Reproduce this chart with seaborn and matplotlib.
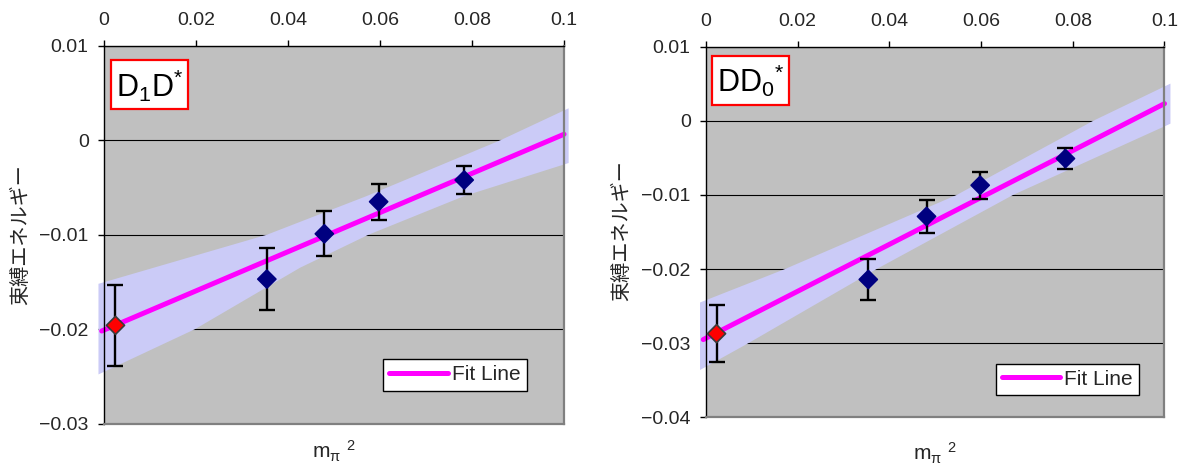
import numpy as np
import matplotlib
matplotlib.use("Agg")
import matplotlib.pyplot as plt
from matplotlib.patches import Rectangle
import seaborn as sns

# ---- data ----
# D1D* panel
mpi2_d1 = [0.0025, 0.0354, 0.0479, 0.0597, 0.0783]
eb_d1 = [-0.0196, -0.0147, -0.0099, -0.0065, -0.0042]
err_d1 = [0.0043, 0.0033, 0.0024, 0.0019, 0.0015]
fit_x_d1 = [-0.0005, 0.1]
fit_y_d1 = [-0.0202, 0.00065]
band_top_x_d1 = [-0.0012, 0.0354, 0.0571, 0.0861, 0.101]
band_top_y_d1 = [-0.0152, -0.0100, -0.0059, 0.0, 0.0034]
band_bot_x_d1 = [-0.0012, 0.0198, 0.0426, 0.0575, 0.0783, 0.101]
band_bot_y_d1 = [-0.0248, -0.0200, -0.0135, -0.0100, -0.0059, -0.0024]

# DD0* panel
mpi2_d0 = [0.0023, 0.0354, 0.0481, 0.0598, 0.0784]
eb_d0 = [-0.0287, -0.0214, -0.0129, -0.0087, -0.0051]
err_d0 = [0.0038, 0.0028, 0.0022, 0.0018, 0.0014]
fit_x_d0 = [-0.0006, 0.1]
fit_y_d0 = [-0.0295, 0.0023]
band_top_x_d0 = [-0.0013, 0.0172, 0.0547, 0.0845, 0.1013]
band_top_y_d0 = [-0.0245, -0.0200, -0.0100, 0.0, 0.0050]
band_bot_x_d0 = [-0.0013, 0.0092, 0.0372, 0.0670, 0.1013]
band_bot_y_d0 = [-0.0336, -0.0300, -0.0200, -0.0100, -0.0004]

xticks = [0, 0.02, 0.04, 0.06, 0.08, 0.1]
xticklabels = ["0", "0.02", "0.04", "0.06", "0.08", "0.1"]
yticks_d1 = [0.01, 0, -0.01, -0.02, -0.03]
yticklabels_d1 = ["0.01", "0", "\u22120.01", "\u22120.02", "\u22120.03"]
yticks_d0 = [0.01, 0, -0.01, -0.02, -0.03, -0.04]
yticklabels_d0 = ["0.01", "0", "\u22120.01", "\u22120.02", "\u22120.03", "\u22120.04"]

ylabel = "束縛エネルギー"
xlabel = "m$_{π}$ $^{2}$"

sns.set_theme(style="ticks")
plt.rcParams["font.family"] = ["Liberation Sans", "DejaVu Sans"]
plt.rcParams["mathtext.fontset"] = "custom"
plt.rcParams["mathtext.rm"] = "Liberation Sans"
plt.rcParams["mathtext.it"] = "Liberation Sans"
plt.rcParams["mathtext.default"] = "regular"

fig = plt.figure(figsize=(11.79, 4.66), dpi=100)
ax1 = fig.add_axes([0.0882, 0.0912, 0.3902, 0.8101])
ax2 = fig.add_axes([0.5988, 0.1041, 0.3889, 0.7961])


def draw_panel(ax, mx, ey, err, fx, fy, tx, ty, bx, by, yticks, yticklabels,
               ylim, tag, tag_box, tag_pos, leg_anchor, ylab_pos, xlab_pos):
    ax.set_facecolor("#c0c0c0")
    ax.set_axisbelow(True)

    # confidence band
    poly_x = list(tx) + list(bx)[::-1]
    poly_y = list(ty) + list(by)[::-1]
    ax.fill(poly_x, poly_y, facecolor="#cbcbf7", edgecolor="none",
            zorder=1, clip_on=False)

    sns.lineplot(x=fx, y=fy, ax=ax, color="#ff00ff", linewidth=3.6,
                 label="Fit Line", zorder=2, clip_on=False)

    ax.errorbar(mx, ey, yerr=err, fmt="none", ecolor="black",
                elinewidth=1.7, capsize=5.5, capthick=1.7, zorder=3)
    colors = ["#ff0000"] + ["#000080"] * (len(mx) - 1)
    edges = ["#3a3a3a"] + ["#000080"] * (len(mx) - 1)
    sns.scatterplot(x=mx, y=ey, ax=ax, marker="D", s=85, c=colors,
                    edgecolor=edges, linewidth=1.2, zorder=4, legend=False)

    ax.set_xlim(0, 0.1)
    ax.set_ylim(*ylim)
    ax.xaxis.tick_top()
    ax.set_xticks(xticks)
    ax.set_xticklabels(xticklabels)
    ax.set_yticks(yticks)
    ax.set_yticklabels(yticklabels)
    ax.tick_params(axis="x", direction="out", length=4, width=1,
                   color="black", labelsize=14, pad=8)
    ax.tick_params(axis="y", direction="out", length=4, width=1,
                   color="black", labelsize=14, pad=7)
    ax.yaxis.grid(True, color="black", linewidth=0.8)
    ax.xaxis.grid(False)

    for side in ["left", "top"]:
        ax.spines[side].set_visible(True)
        ax.spines[side].set_color("black")
        ax.spines[side].set_linewidth(1)
    for side in ["right", "bottom"]:
        ax.spines[side].set_visible(True)
        ax.spines[side].set_color("#808080")
        ax.spines[side].set_linewidth(1.6)

    ax.set_ylabel(ylabel, fontsize=14.5, family=["Noto Sans CJK JP", "DejaVu Sans"])
    ax.yaxis.set_label_coords(*ylab_pos)
    ax.set_xlabel(xlabel, fontsize=15)
    ax.xaxis.set_label_position("bottom")
    ax.xaxis.set_label_coords(*xlab_pos)
    ax.xaxis.label.set_va("center")

    # tag box
    x0, y0, x1, y1 = tag_box
    ax.add_patch(Rectangle((x0, y0), x1 - x0, y1 - y0, transform=ax.transAxes,
                           facecolor="white", edgecolor="#ff0000",
                           linewidth=1.6, zorder=5))
    ax.text(tag_pos[0], tag_pos[1], tag, transform=ax.transAxes, fontsize=22,
            ha="left", va="baseline", color="black", zorder=6)

    leg = ax.legend(loc="lower right", bbox_to_anchor=leg_anchor,
                    borderaxespad=0, fontsize=15, frameon=True, fancybox=False,
                    handlelength=2.8, handletextpad=0.2, borderpad=0.3)
    leg.get_frame().set_edgecolor("black")
    leg.get_frame().set_facecolor("white")
    leg.get_frame().set_linewidth(1.0)
    leg.get_frame().set_alpha(1)
    leg.set_zorder(6)


draw_panel(ax1, mpi2_d1, eb_d1, err_d1, fit_x_d1, fit_y_d1,
           band_top_x_d1, band_top_y_d1, band_bot_x_d1, band_bot_y_d1,
           yticks_d1, yticklabels_d1, (-0.03, 0.01),
           "D$_{1}$D$^{*}$", (0.0152, 0.834, 0.182, 0.963), (0.026, 0.866),
           (0.919, 0.0869), (-0.158, 0.5), (0.5, -0.075))

draw_panel(ax2, mpi2_d0, eb_d0, err_d0, fit_x_d0, fit_y_d0,
           band_top_x_d0, band_top_y_d0, band_bot_x_d0, band_bot_y_d0,
           yticks_d0, yticklabels_d0, (-0.04, 0.01),
           "DD$_{0}$$^{*}$", (0.014, 0.8415, 0.182, 0.975), (0.025, 0.878),
           (0.9452, 0.0606), (-0.16, 0.503), (0.5, -0.097))

fig.savefig("out.png", dpi=100, facecolor="white")
